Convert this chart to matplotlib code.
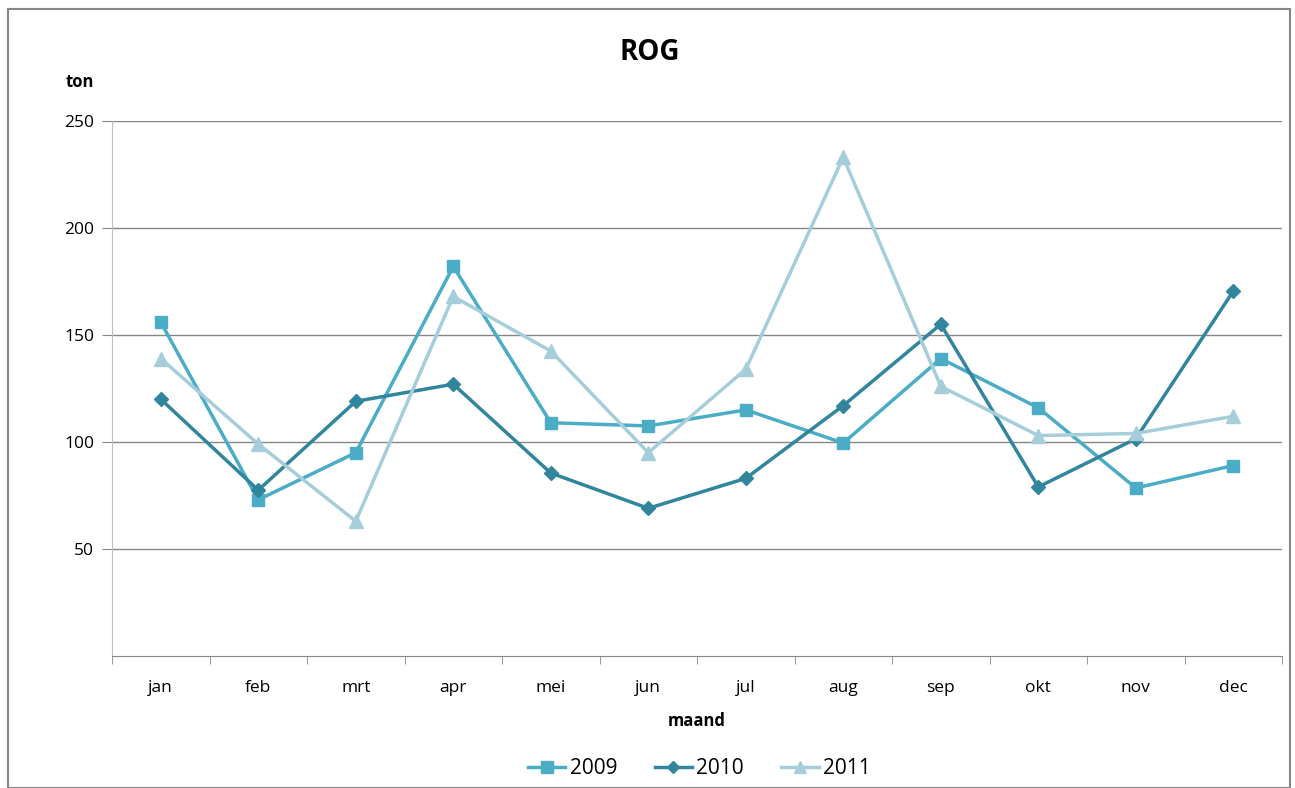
import numpy as np
import matplotlib.pyplot as plt
from matplotlib.patches import Rectangle

months = ["jan", "feb", "mrt", "apr", "mei", "jun", "jul", "aug", "sep", "okt", "nov", "dec"]
rog_2009 = [156, 73, 95, 182, 109, 107.5, 115, 99.5, 139, 116, 78.5, 89]
rog_2010 = [120, 77.5, 119, 127, 85.5, 69, 83, 117, 155, 79, 101.5, 170.5]
rog_2011 = [139, 99, 63, 168, 142.5, 95, 134, 233, 126, 103, 104, 112]
y_ticks = [50, 100, 150, 200, 250]

plt.rcParams['font.family'] = ['Open Sans', 'DejaVu Sans']

fig = plt.figure(figsize=(12.95, 7.88), dpi=100)
ax = fig.add_axes([0.0865, 0.1675, 0.9035, 0.679])

x = np.arange(len(months))
ax.plot(x, rog_2009, color='#4BACC6', lw=2.5, marker='s', ms=9, label='2009')
ax.plot(x, rog_2010, color='#31859C', lw=2.5, marker='D', ms=7, label='2010')
ax.plot(x, rog_2011, color='#A5CDDA', lw=2.5, marker='^', ms=10, label='2011')

ax.set_xlim(-0.5, len(months) - 0.5)
ax.set_ylim(0, 250)
ax.set_yticks(y_ticks)
ax.tick_params(axis='y', labelsize=12.5, length=7, color='#868686', pad=6)
ax.yaxis.grid(True, color='#868686', lw=1)
ax.set_axisbelow(True)

# month labels in the middle, tick marks on the boundaries
ax.set_xticks(x)
ax.set_xticklabels(months)
ax.tick_params(axis='x', which='major', length=0, labelsize=12.5, pad=17)
ax.set_xticks(np.arange(-0.5, len(months)), minor=True)
ax.tick_params(axis='x', which='minor', length=6, color='#868686')

for s in ['top', 'right']:
    ax.spines[s].set_visible(False)
ax.spines['left'].set_color('#BFBFBF')
ax.spines['bottom'].set_color('#868686')

fig.text(0.502, 0.933, 'ROG', ha='center', va='center', fontsize=20, fontweight='bold')
fig.text(0.0615, 0.896, 'ton', ha='center', va='center', fontsize=12, fontweight='bold')
fig.text(0.538, 0.085, 'maand', ha='center', va='center', fontsize=12, fontweight='bold')

ax.legend(loc='center', bbox_to_anchor=(0.54, 0.025), bbox_transform=fig.transFigure,
          ncol=3, frameon=False, fontsize=15, handlelength=1.8, handletextpad=0.2,
          columnspacing=1.8, markerscale=0.9)

fig.add_artist(Rectangle((0.006, 0.0), 0.99, 0.989, transform=fig.transFigure,
                         fill=False, edgecolor='#868686', lw=1.5))

fig.savefig('out.png', dpi=100)
